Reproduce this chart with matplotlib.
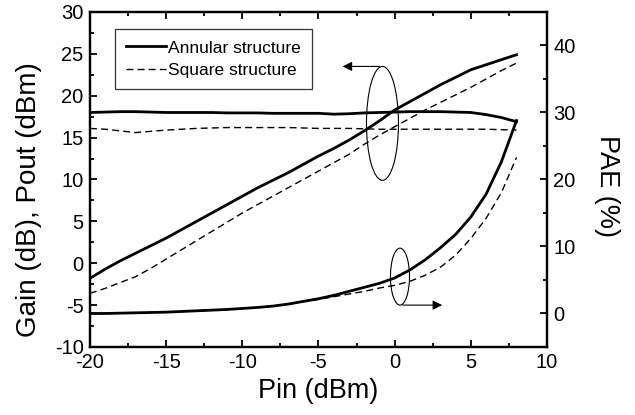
import matplotlib
matplotlib.use("Agg")
import matplotlib.pyplot as plt
from matplotlib.patches import Ellipse
from matplotlib.ticker import MultipleLocator

plt.rcParams['font.family'] = ['Liberation Sans', 'DejaVu Sans']
plt.rcParams['axes.unicode_minus'] = False

# input power sweep (dBm)
pin = [-20, -19, -18, -17, -16, -15, -14, -13, -12, -11, -10, -9, -8, -7, -6,
       -5, -4, -3, -2, -1, 0, 1, 2, 3, 4, 5, 6, 7, 8]

# gain (dB)
gain_annular = [18.0, 18.05, 18.1, 18.1, 18.05, 18.0, 18.0, 18.0, 18.0, 17.95, 17.95, 17.95, 17.9, 17.9, 17.9,
                17.9, 17.8, 17.85, 17.95, 18.0, 18.05, 18.1, 18.1, 18.1, 18.05, 18.0, 17.75, 17.4, 16.9]
gain_square = [16.1, 16.0, 15.8, 15.6, 15.75, 15.9, 16.0, 16.1, 16.15, 16.2, 16.2, 16.2, 16.2, 16.2, 16.15,
               16.1, 16.1, 16.1, 16.05, 16.0, 16.0, 16.0, 16.0, 16.0, 16.0, 16.0, 16.0, 15.95, 15.9]

# output power (dBm)
pout_annular = [-1.8, -0.7, 0.3, 1.2, 2.1, 3.0, 4.0, 5.0, 6.0, 7.0, 8.0, 9.0, 9.9, 10.8, 11.8,
                12.8, 13.7, 14.7, 15.8, 17.0, 18.3, 19.3, 20.3, 21.3, 22.2, 23.1, 23.7, 24.3, 24.9]
pout_square = [-3.6, -3.0, -2.3, -1.6, -0.6, 0.5, 1.6, 2.7, 3.8, 4.9, 6.0, 7.0, 8.0, 9.0, 10.0,
               11.0, 12.0, 13.0, 14.2, 15.3, 16.3, 17.3, 18.3, 19.2, 20.1, 21.0, 22.0, 23.0, 23.9]

# power added efficiency (%)
pae_annular = [0.0, 0.0, 0.05, 0.1, 0.15, 0.2, 0.3, 0.4, 0.5, 0.6, 0.75, 0.9, 1.1, 1.4, 1.8,
               2.2, 2.7, 3.3, 3.9, 4.5, 5.3, 6.5, 8.0, 9.8, 11.8, 14.4, 17.8, 22.6, 28.8]
pae_square = [0.0, 0.0, 0.05, 0.1, 0.15, 0.2, 0.3, 0.4, 0.5, 0.6, 0.75, 0.9, 1.1, 1.4, 1.8,
              2.1, 2.5, 2.9, 3.3, 3.8, 4.2, 4.8, 5.7, 6.9, 8.7, 11.2, 14.2, 18.0, 23.3]

fig = plt.figure(figsize=(6.35, 4.15), dpi=100)
ax = fig.add_axes([0.1417, 0.1639, 0.7197, 0.8072])
ax2 = ax.twinx()

solid = dict(color='black', lw=2.0, ls='-')
dashed = dict(color='black', lw=1.0, ls=(0, (5, 3)))

ax.plot(pin, gain_annular, **solid, label='Annular structure')
ax.plot(pin, gain_square, **dashed, label='Square structure')
ax.plot(pin, pout_annular, **solid)
ax.plot(pin, pout_square, **dashed)
ax2.plot(pin, pae_annular, **solid)
ax2.plot(pin, pae_square, **dashed)

ax.set_xlim(-20, 10)
ax.set_ylim(-10, 30)
ax2.set_ylim(-5, 45)

ax.xaxis.set_major_locator(MultipleLocator(5))
ax.xaxis.set_minor_locator(MultipleLocator(2.5))
ax.yaxis.set_major_locator(MultipleLocator(5))
ax.yaxis.set_minor_locator(MultipleLocator(2.5))
ax2.yaxis.set_major_locator(MultipleLocator(10))
ax2.yaxis.set_minor_locator(MultipleLocator(5))

ax.tick_params(which='both', direction='in', top=True, right=False, labelsize=14.5, width=1.3, pad=4.5)
ax.tick_params(which='major', length=5)
ax.tick_params(which='minor', length=3)
ax2.tick_params(which='both', direction='in', labelsize=14.5, width=1.3, pad=4.5)
ax2.tick_params(which='major', length=5)
ax2.tick_params(which='minor', length=3)
for a in (ax, ax2):
    for s in a.spines.values():
        s.set_linewidth(1.6)

ax.set_xlabel('Pin (dBm)', fontsize=19.5, labelpad=4)
ax.set_ylabel('Gain (dB), Pout (dBm)', fontsize=20)
ax.yaxis.set_label_coords(-0.105, 0.44)
ax2.set_ylabel('PAE (%)', fontsize=19.5, rotation=270, va='top')
ax2.yaxis.set_label_coords(1.16, 0.48)

# ellipses marking each group of curves, with arrows pointing to their axis
ax.add_patch(Ellipse((-0.8, 16.7), 2.1, 13.6, fill=False, ec='black', lw=0.8))
ax.annotate('', xy=(-3.6, 23.5), xytext=(-0.8, 23.5),
            arrowprops=dict(arrowstyle='-|>', color='black', lw=0.8, mutation_scale=14))
ax.add_patch(Ellipse((0.35, -1.6), 1.25, 6.8, fill=False, ec='black', lw=0.8))
ax.annotate('', xy=(3.3, -5.0), xytext=(0.35, -5.0),
            arrowprops=dict(arrowstyle='-|>', color='black', lw=0.8, mutation_scale=14))

leg = ax.legend(loc='upper left', bbox_to_anchor=(0.055, 0.949), fontsize=12.5, frameon=True,
                fancybox=False, edgecolor='black', handlelength=2.3, handletextpad=0.1,
                borderpad=0.65, labelspacing=0.4, borderaxespad=0.0)
leg.get_frame().set_linewidth(0.9)

fig.savefig('out.png', dpi=100)
